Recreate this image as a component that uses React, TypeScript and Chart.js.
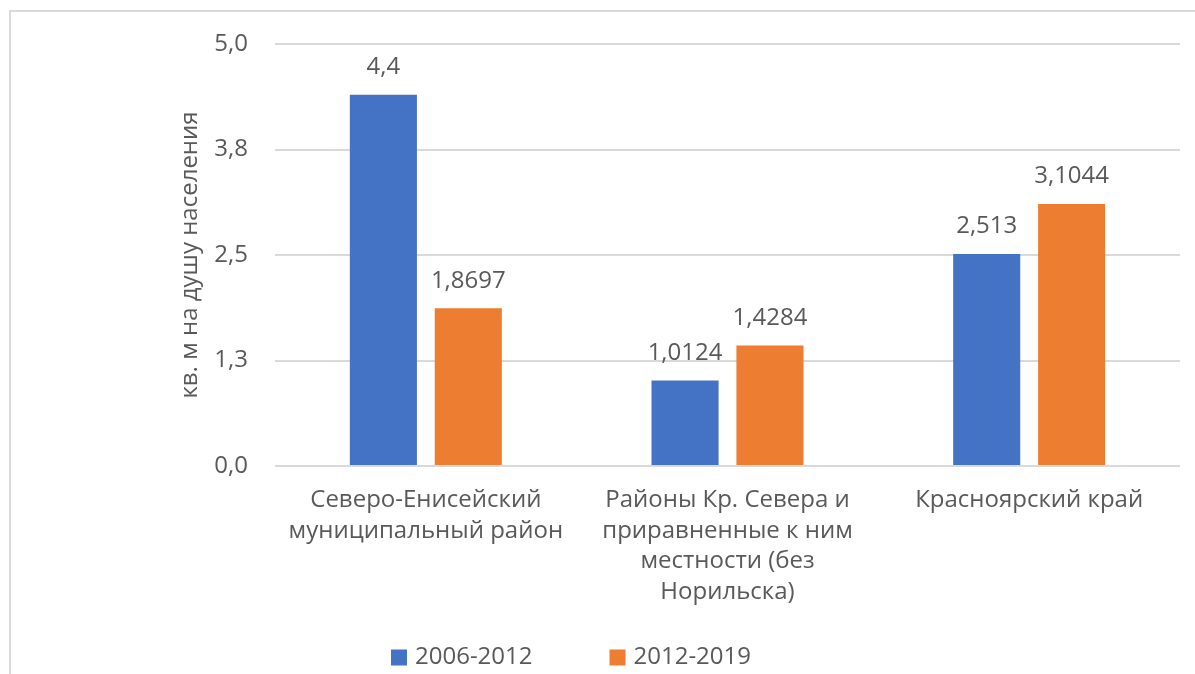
import React, { useEffect, useRef } from "react";
import { Chart, registerables } from "chart.js";

Chart.register(...registerables);

const categories: string[][] = [
  ["Северо-Енисейский", "муниципальный район"],
  ["Районы Кр. Севера и", "приравненные к ним", "местности (без", "Норильска)"],
  ["Красноярский край"],
];
const series1Label = "2006-2012";
const series2Label = "2012-2019";
const series1 = [4.4, 1.0124, 2.513];
const series2 = [1.8697, 1.4284, 3.1044];
const yTicks = [0, 1.25, 2.5, 3.75, 5];
const yTitle = "кв. м на душу населения";

const TEXT = "#595959";
const FONT_CSS = '24px "Open Sans", sans-serif';
const FONT = { family: '"Open Sans", sans-serif', size: 24 };

const LEGEND_CX = 571;
const LEGEND_Y = 657.5;

const fmtComma = (v: number) => String(v).replace(".", ",");

const valueLabels = {
  id: "valueLabels",
  afterDatasetsDraw(chart: any) {
    const ctx = chart.ctx;
    ctx.save();
    ctx.font = FONT_CSS;
    ctx.fillStyle = TEXT;
    ctx.textAlign = "center";
    ctx.textBaseline = "middle";
    chart.data.datasets.forEach((ds: any, i: number) => {
      const meta = chart.getDatasetMeta(i);
      meta.data.forEach((bar: any, j: number) => {
        ctx.fillText(fmtComma(ds.data[j]), bar.x, bar.y - 27.5);
      });
    });
    ctx.restore();
  },
};

const bottomLegend = {
  id: "bottomLegend",
  afterDraw(chart: any) {
    const ctx = chart.ctx;
    ctx.save();
    ctx.font = FONT_CSS;
    const box = 16;
    const gapText = 8;
    const gapItem = 77;
    const items = chart.data.datasets.map((ds: any) => ({
      text: ds.label as string,
      color: ds.backgroundColor as string,
    }));
    const widths = items.map(
      (it: any) => box + gapText + ctx.measureText(it.text).width
    );
    const total =
      widths.reduce((a: number, b: number) => a + b, 0) +
      gapItem * (items.length - 1);
    let x = LEGEND_CX - total / 2;
    items.forEach((it: any, i: number) => {
      ctx.fillStyle = it.color;
      ctx.fillRect(x, LEGEND_Y - box / 2, box, box);
      ctx.fillStyle = TEXT;
      ctx.textAlign = "left";
      ctx.textBaseline = "middle";
      ctx.fillText(it.text, x + box + gapText, LEGEND_Y);
      x += widths[i] + gapItem;
    });
    ctx.restore();
  },
};

export default function App() {
  const ref = useRef<HTMLCanvasElement>(null);
  useEffect(() => {
    const chart = new Chart(ref.current as HTMLCanvasElement, {
      type: "bar",
      data: {
        labels: categories as any,
        datasets: [
          {
            label: series1Label,
            data: series1,
            backgroundColor: "#4472C4",
            borderWidth: 0,
            categoryPercentage: 0.563,
            barPercentage: 0.79,
          },
          {
            label: series2Label,
            data: series2,
            backgroundColor: "#ED7D31",
            borderWidth: 0,
            categoryPercentage: 0.563,
            barPercentage: 0.79,
          },
        ],
      },
      options: {
        responsive: false,
        animation: false,
        layout: { padding: { left: 0, right: 15, top: 44, bottom: 48 } },
        scales: {
          x: {
            grid: { display: false, drawTicks: false },
            border: { display: false },
            ticks: {
              font: { ...FONT, lineHeight: 1.27 },
              color: TEXT,
              padding: 19,
              maxRotation: 0,
              autoSkip: false,
            },
            afterFit: (s: any) => {
              s.height = 160;
            },
          },
          y: {
            min: 0,
            max: 5,
            afterBuildTicks: (s: any) => {
              s.ticks = yTicks.map((v) => ({ value: v }));
            },
            ticks: {
              font: FONT,
              color: TEXT,
              padding: 27,
              callback: (v: any) => Number(v).toFixed(1).replace(".", ","),
            },
            grid: { color: "#d9d9d9", lineWidth: 2, drawTicks: false },
            border: { display: false },
            title: {
              display: true,
              text: yTitle,
              font: FONT,
              color: TEXT,
              padding: { top: 176, bottom: 0 },
            },
            afterFit: (s: any) => {
              s.width = 275;
            },
          },
        },
        plugins: {
          legend: { display: false },
          tooltip: { enabled: false },
        },
      },
      plugins: [valueLabels, bottomLegend],
    });
    return () => chart.destroy();
  }, []);

  return (
    <div
      style={{
        position: "fixed",
        left: 0,
        top: 0,
        width: 1195,
        height: 674,
        overflow: "hidden",
        background: "#fff",
      }}
    >
      <div
        style={{
          position: "absolute",
          left: 9,
          top: 10,
          right: -10,
          bottom: -10,
          borderLeft: "2px solid #d9d9d9",
          borderTop: "2px solid #d9d9d9",
        }}
      />
      <canvas
        ref={ref}
        width={1195}
        height={674}
        style={{ position: "absolute", left: 0, top: 0 }}
      />
    </div>
  );
}
